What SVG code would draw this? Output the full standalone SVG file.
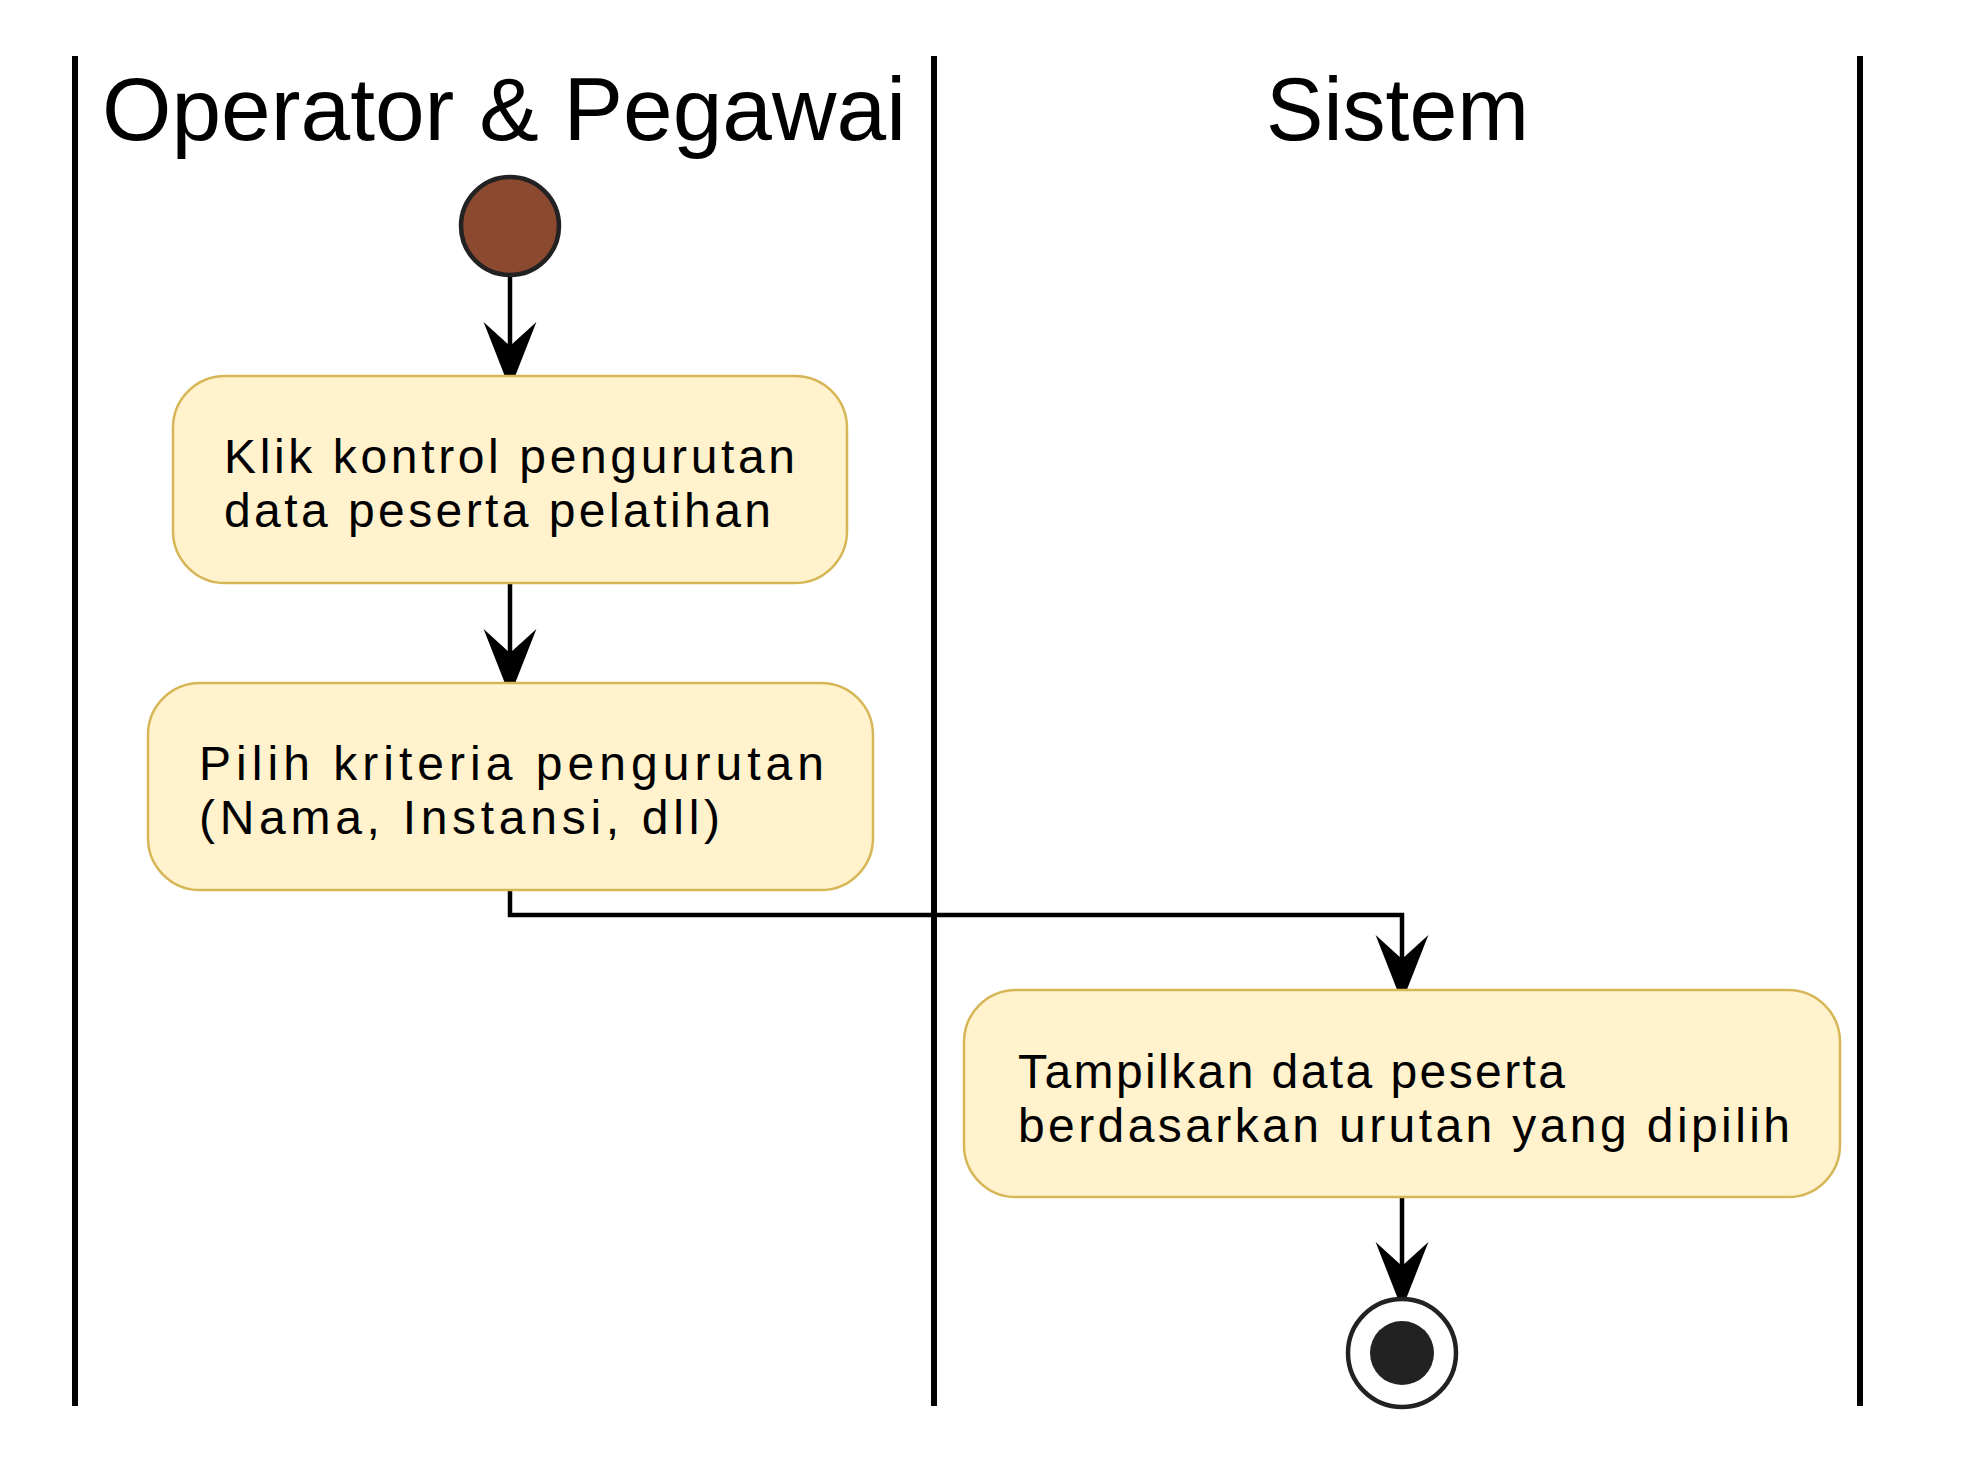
<svg xmlns="http://www.w3.org/2000/svg" width="1965" height="1465" viewBox="0 0 1965 1465">
<style>
.lane{stroke:#000;stroke-width:6;fill:none}
.title{font-family:"Liberation Sans",Arial,sans-serif;font-size:89px;fill:#000}
.act rect{fill:#FFF2CC;stroke:#D6B656;stroke-width:2.5}
.act text{font-family:"Liberation Sans",Arial,sans-serif;font-size:48px;fill:#000}
.conn{stroke:#000;stroke-width:4.5;fill:none;marker-end:url(#arr)}
</style>
<defs>
<marker id="arr" markerUnits="userSpaceOnUse" markerWidth="80" markerHeight="60" viewBox="-25 -25 65 50" refX="0" refY="0" orient="auto" overflow="visible">
<path d="M36,0 L-20,-22 L0,0 L-20,22 Z" fill="#000"/>
</marker>
</defs>
<rect width="1965" height="1465" fill="#fff"/>
<g id="lanes">
<line class="lane" x1="75" y1="56" x2="75" y2="1406"/>
<line class="lane" x1="934" y1="56" x2="934" y2="1406"/>
<line class="lane" x1="1860" y1="56" x2="1860" y2="1406"/>
<text class="title" x="102" y="140" textLength="804" lengthAdjust="spacingAndGlyphs">Operator &amp; Pegawai</text>
<text class="title" x="1266" y="140" textLength="263" lengthAdjust="spacingAndGlyphs">Sistem</text>
</g>
<g id="connectors">
<path class="conn" d="M510,277 L510,346"/>
<path class="conn" d="M510,584 L510,653"/>
<path class="conn" d="M510,891 L510,915 L1402,915 L1402,959"/>
<path class="conn" d="M1402,1197 L1402,1266"/>
</g>
<g id="start">
<circle cx="510" cy="226" r="49" fill="#8B4A2F" stroke="#222" stroke-width="4.5"/>
</g>
<g id="a1" class="act">
<rect x="173" y="376" width="674" height="207" rx="52" ry="52"/>
<text x="224" y="473" textLength="571" lengthAdjust="spacing">Klik kontrol pengurutan</text>
<text x="224" y="527" textLength="547" lengthAdjust="spacing">data peserta pelatihan</text>
</g>
<g id="a2" class="act">
<rect x="148" y="683" width="725" height="207" rx="52" ry="52"/>
<text x="199" y="780" textLength="625" lengthAdjust="spacing">Pilih kriteria pengurutan</text>
<text x="199" y="834" textLength="521" lengthAdjust="spacing">(Nama, Instansi, dll)</text>
</g>
<g id="a3" class="act">
<rect x="964" y="990" width="876" height="207" rx="52" ry="52"/>
<text x="1018" y="1088" textLength="547" lengthAdjust="spacing">Tampilkan data peserta</text>
<text x="1018" y="1142" textLength="772" lengthAdjust="spacing">berdasarkan urutan yang dipilih</text>
</g>
<g id="end">
<circle cx="1402" cy="1353" r="54" fill="#fff" stroke="#222" stroke-width="4.5"/>
<circle cx="1402" cy="1353" r="32" fill="#222"/>
</g>
</svg>
